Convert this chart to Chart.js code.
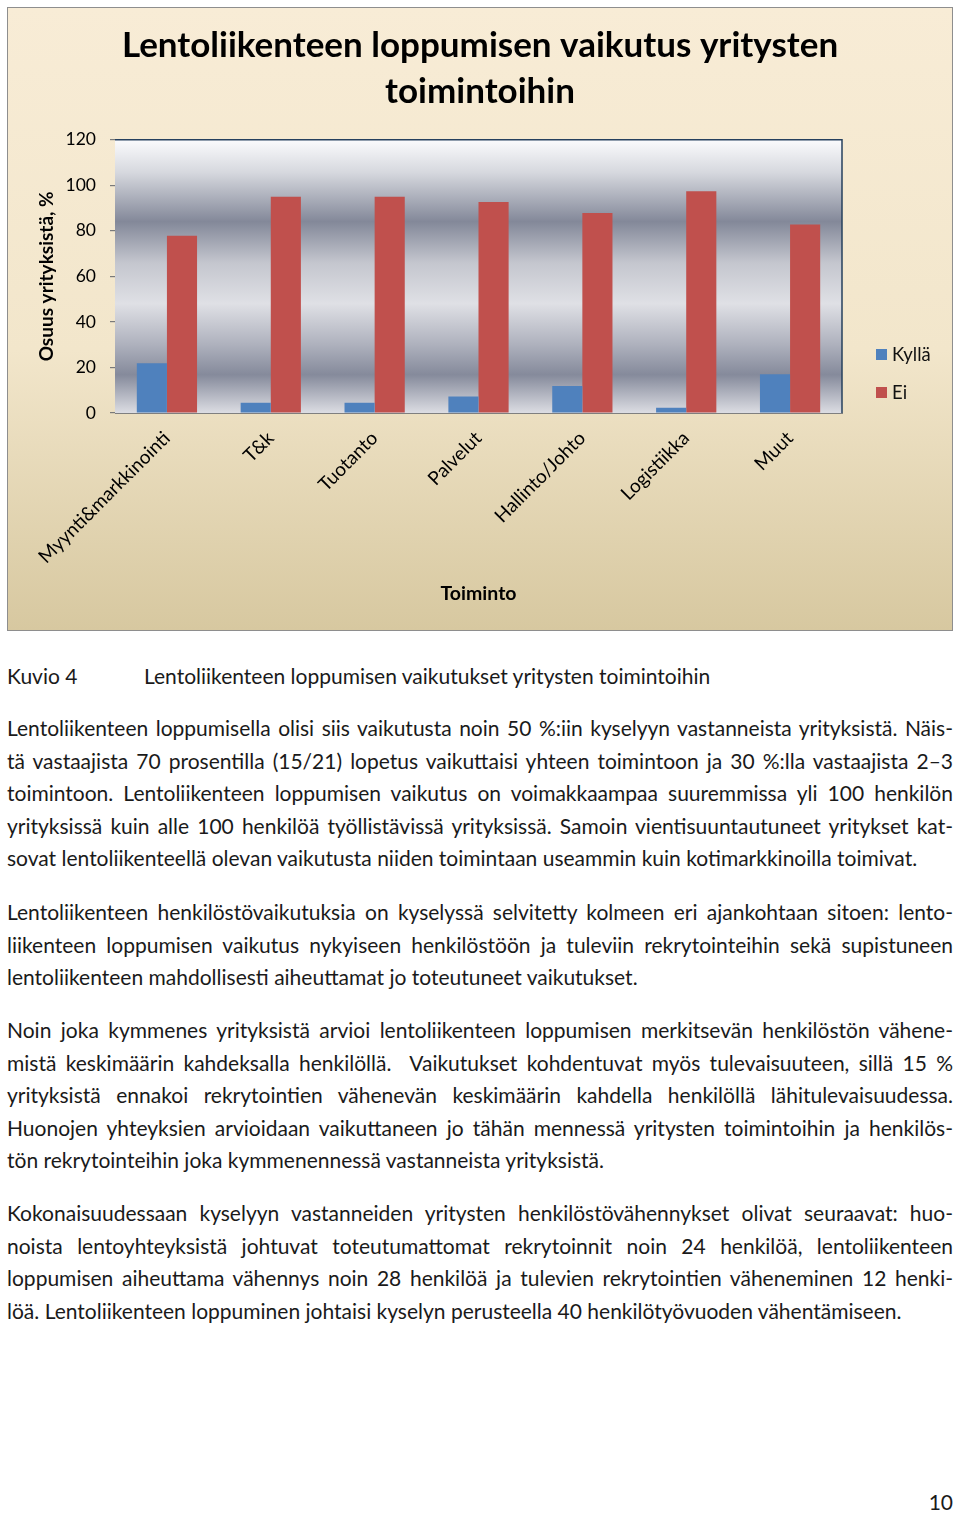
<!DOCTYPE html>
<html>
<head>
<meta charset="utf-8">
<script src="https://cdn.jsdelivr.net/npm/chart.js@4.4.1/dist/chart.umd.min.js"></script>
<style>
  body { margin: 0; background: #fff; width: 960px; height: 1515px; position: relative; font-family: Lato, "Open Sans", sans-serif; color: #1a1a1a; }
  #box { position: absolute; left: 7px; top: 7px; width: 946px; height: 624px; box-sizing: border-box; border: 1px solid #8e8e8e;
         background: linear-gradient(#f8ecd6 0%, #f2e6cb 55%, #d7c8a0 100%); }
  #myChart { display: block; }
  .txt { position: absolute; left: 7px; width: 946px; font-size: 21px; line-height: 32.5px; }
  .txt div { text-align: justify; text-align-last: justify; white-space: nowrap; }
  .txt div.last { text-align-last: left; }
  #caption { position: absolute; top: 660px; left: 7px; font-size: 21px; line-height: 32px; }
  #caption span { position: absolute; left: 137px; white-space: nowrap; }
  #pageno { position: absolute; right: 7px; top: 1489px; font-size: 21px; }
</style>
</head>
<body>
<div id="box"><canvas id="myChart" width="944" height="622"></canvas></div>

<div id="caption">Kuvio 4<span>Lentoliikenteen loppumisen vaikutukset yritysten toimintoihin</span></div>

<div class="txt" style="top:712px">
  <div>Lentoliikenteen loppumisella olisi siis vaikutusta noin 50 %:iin kyselyyn vastanneista yrityksistä. Näis-</div>
  <div>tä vastaajista 70 prosentilla (15/21) lopetus vaikuttaisi yhteen toimintoon ja 30 %:lla vastaajista 2–3</div>
  <div>toimintoon. Lentoliikenteen loppumisen vaikutus on voimakkaampaa suuremmissa yli 100 henkilön</div>
  <div>yrityksissä kuin alle 100 henkilöä työllistävissä yrityksissä. Samoin vientisuuntautuneet yritykset kat-</div>
  <div class="last">sovat lentoliikenteellä olevan vaikutusta niiden toimintaan useammin kuin kotimarkkinoilla toimivat.</div>
</div>

<div class="txt" style="top:896px">
  <div>Lentoliikenteen henkilöstövaikutuksia on kyselyssä selvitetty kolmeen eri ajankohtaan sitoen: lento-</div>
  <div>liikenteen loppumisen vaikutus nykyiseen henkilöstöön ja tuleviin rekrytointeihin sekä supistuneen</div>
  <div class="last">lentoliikenteen mahdollisesti aiheuttamat jo toteutuneet vaikutukset.</div>
</div>

<div class="txt" style="top:1014px">
  <div>Noin joka kymmenes yrityksistä arvioi lentoliikenteen loppumisen merkitsevän henkilöstön vähene-</div>
  <div>mistä keskimäärin kahdeksalla henkilöllä.&nbsp; Vaikutukset kohdentuvat myös tulevaisuuteen, sillä 15 %</div>
  <div>yrityksistä ennakoi rekrytointien vähenevän keskimäärin kahdella henkilöllä lähitulevaisuudessa.</div>
  <div>Huonojen yhteyksien arvioidaan vaikuttaneen jo tähän mennessä yritysten toimintoihin ja henkilös-</div>
  <div class="last">tön rekrytointeihin joka kymmenennessä vastanneista yrityksistä.</div>
</div>

<div class="txt" style="top:1197px">
  <div>Kokonaisuudessaan kyselyyn vastanneiden yritysten henkilöstövähennykset olivat seuraavat: huo-</div>
  <div>noista lentoyhteyksistä johtuvat toteutumattomat rekrytoinnit noin 24 henkilöä, lentoliikenteen</div>
  <div>loppumisen aiheuttama vähennys noin 28 henkilöä ja tulevien rekrytointien väheneminen 12 henki-</div>
  <div class="last">löä. Lentoliikenteen loppuminen johtaisi kyselyn perusteella 40 henkilötyövuoden vähentämiseen.</div>
</div>

<div id="pageno">10</div>

<script>
// chart data
const categories = ["Myynti&markkinointi", "T&k", "Tuotanto", "Palvelut", "Hallinto/Johto", "Logistiikka", "Muut"];
const kylla = [21.8, 4.5, 4.5, 7.2, 11.9, 2.3, 17.0];
const ei = [77.8, 95.0, 95.0, 92.6, 87.8, 97.4, 82.8];
const seriesNames = ["Kyllä", "Ei"];
const yMin = 0;
const yMax = 120;
const yStep = 20;

const chart = document.getElementById("myChart");

// metallic background + dark frame for the plot area
const plotBackground = {
  id: "plotBackground",
  beforeDatasetsDraw(c) {
    const { ctx, chartArea: a } = c;
    const g = ctx.createLinearGradient(0, a.top, 0, a.bottom);
    g.addColorStop(0, "#fbfbfd");
    g.addColorStop(0.12, "#d6d8de");
    g.addColorStop(0.3, "#838899");
    g.addColorStop(0.45, "#c4c6ce");
    g.addColorStop(0.6, "#dfe0e5");
    g.addColorStop(0.75, "#aeb1bd");
    g.addColorStop(0.86, "#858a9b");
    g.addColorStop(1, "#dcdde3");
    ctx.save();
    ctx.fillStyle = g;
    ctx.fillRect(a.left, a.top, a.right - a.left, a.bottom - a.top);
    ctx.restore();
  },
  afterDraw(c) {
    const { ctx, chartArea: a } = c;
    ctx.save();
    ctx.strokeStyle = "#26405e";
    ctx.lineWidth = 1.5;
    ctx.beginPath();
    ctx.moveTo(a.left, a.top);
    ctx.lineTo(a.right, a.top);
    ctx.lineTo(a.right, a.bottom);
    ctx.stroke();
    ctx.restore();
  },
};

// legend drawn beside the plot, near its bottom
const sideLegend = {
  id: "sideLegend",
  afterDraw(c) {
    const { ctx, chartArea: a } = c;
    ctx.save();
    ctx.font = "18.5px Lato";
    ctx.textBaseline = "middle";
    c.data.datasets.forEach((ds, i) => {
      const y = a.bottom - 58 + i * 38;
      const x = a.right + 34;
      ctx.fillStyle = ds.backgroundColor;
      ctx.fillRect(x, y - 6, 11, 11);
      ctx.fillStyle = "#111";
      ctx.fillText(ds.label, x + 16, y);
    });
    ctx.restore();
  },
};

const config = {
  type: "bar",
  data: {
    labels: categories,
    datasets: [
      { label: seriesNames[0], data: kylla, backgroundColor: "#4f81bd" },
      { label: seriesNames[1], data: ei, backgroundColor: "#c0504d" },
    ],
  },
  options: {
    responsive: false,
    animation: false,
    devicePixelRatio: 1,
    datasets: { bar: { categoryPercentage: 0.58, barPercentage: 1 } },
    plugins: {
      legend: { display: false },
      tooltip: { enabled: false },
      title: {
        display: true,
        text: ["Lentoliikenteen loppumisen vaikutus yritysten", "toimintoihin"],
        color: "#000",
        font: { family: "Lato", size: 35, weight: "bold", lineHeight: 1.31 },
        padding: { top: 15, bottom: 25 },
      },
    },
    scales: {
      x: {
        grid: { display: false },
        border: { display: true, color: "#7f7f7f" },
        ticks: {
          color: "#000",
          font: { family: "Lato", size: 19 },
          minRotation: 45,
          maxRotation: 45,
          padding: 6,
        },
        title: {
          display: true,
          text: "Toiminto",
          color: "#000",
          font: { family: "Lato", size: 19.5, weight: "bold" },
          padding: { top: 0, bottom: 25 },
        },
        afterFit(s) { s.height = 217; },
      },
      y: {
        min: yMin,
        max: yMax,
        ticks: { stepSize: yStep, color: "#000", font: { family: "Lato", size: 17.5 }, padding: 14 },
        grid: { color: "#7a7a7a", tickLength: 5, lineWidth: 1.2 },
        border: { display: true, color: "#7f7f7f" },
        title: {
          display: true,
          text: "Osuus yrityksistä, %",
          color: "#000",
          font: { family: "Lato", size: 19, weight: "bold" },
          padding: { top: 27, bottom: 0 },
        },
        afterFit(s) { s.width = 107; },
      },
      // empty axis on the right keeps room for the legend
      legendSpace: {
        position: "right",
        display: true,
        grid: { display: false, drawTicks: false },
        border: { display: false },
        ticks: { display: false },
        afterFit(s) { s.width = 110; },
      },
    },
  },
  plugins: [plotBackground, sideLegend],
};

window.myChart = new Chart(chart, config);
</script>
</body>
</html>
